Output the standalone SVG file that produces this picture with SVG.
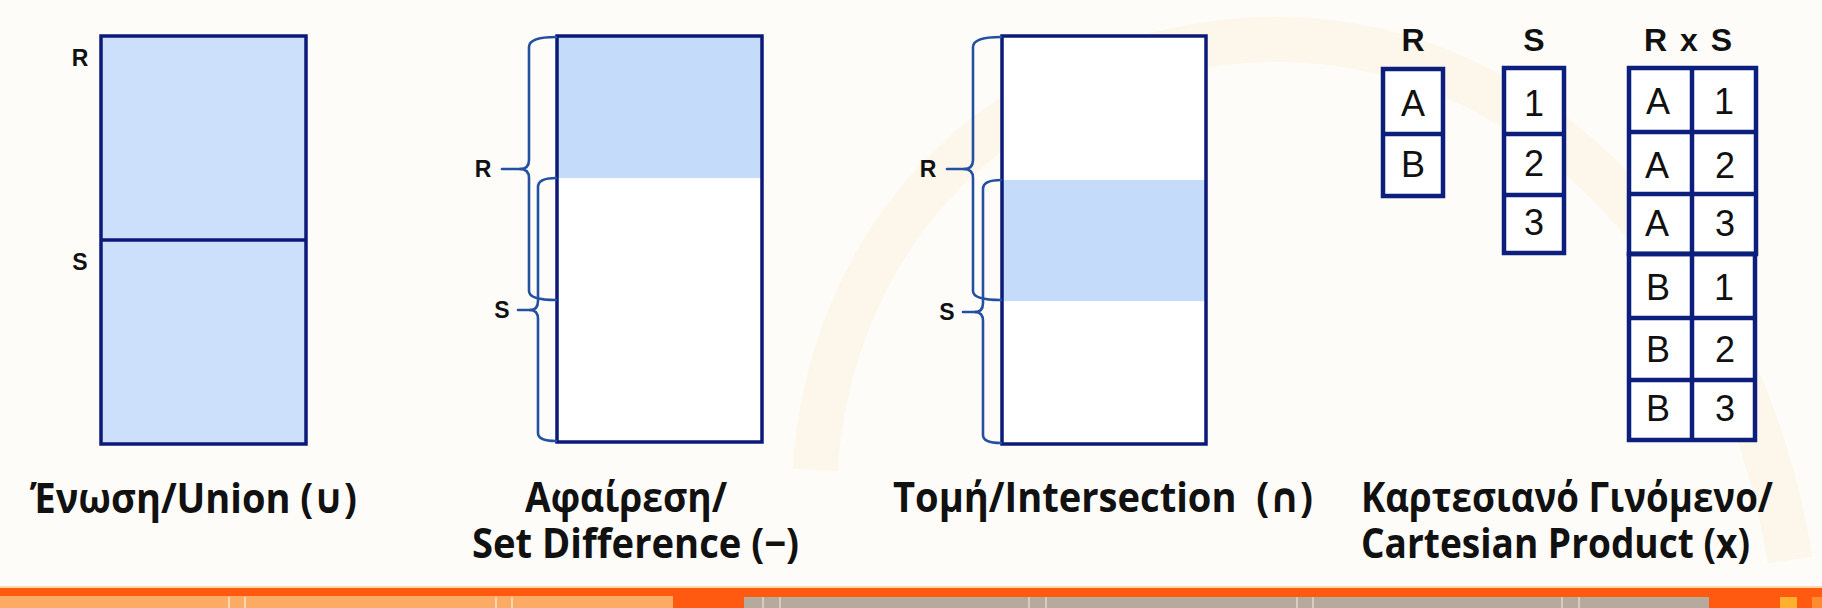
<svg xmlns="http://www.w3.org/2000/svg" width="1822" height="608" viewBox="0 0 1822 608">
<style>
.box{stroke:#0b1a78;stroke-width:3.5;fill:none}
.tbl{stroke:#0d1f7c;stroke-width:4.5;fill:#ffffff}
.tl{stroke:#0d1f7c;stroke-width:4.5}
.brace{stroke:#2350a0;stroke-width:2.6;fill:none;stroke-linecap:round;stroke-linejoin:round}
.lbl{font-family:"Liberation Sans",Arial,sans-serif;font-weight:bold;font-size:23px;fill:#111;text-anchor:middle}
.hdr{font-family:"Liberation Sans",Arial,sans-serif;font-weight:bold;font-size:32px;fill:#111;text-anchor:middle}
.cell{font-family:"Liberation Sans",Arial,sans-serif;font-size:36px;fill:#111;text-anchor:middle}
.ttl{font-family:"Open Sans","DejaVu Sans",sans-serif;font-weight:bold;font-size:41px;fill:#111}
.wl{stroke:#fde3c6;stroke-width:1.6}
.wg{stroke:#ddd6cc;stroke-width:1.6}
</style>
<rect x="0" y="0" width="1822" height="608" fill="#fefcf8"/>
<path d="M 815 470 C 830 250 980 60 1250 40 C 1520 25 1740 250 1790 560" fill="none" stroke="#fcf3e3" stroke-width="45" opacity="0.6"/>

<g id="union">
<rect x="101" y="36" width="205" height="408" fill="#cde0fb"/>
<rect class="box" x="101" y="36" width="205" height="408"/>
<line class="box" x1="101" y1="240" x2="306" y2="240"/>
<text class="lbl" x="80" y="66">R</text>
<text class="lbl" x="80" y="270">S</text>
<text class="ttl" x="30" y="513" textLength="327" lengthAdjust="spacingAndGlyphs">Ένωση/Union (∪)</text>
</g>

<g id="difference">
<rect x="557" y="36" width="205" height="406" fill="#ffffff"/>
<rect x="557" y="36" width="205" height="142" fill="#c5dbfa"/>
<rect class="box" x="557" y="36" width="205" height="406"/>
<text class="lbl" x="483" y="177">R</text>
<text class="lbl" x="502" y="318">S</text>
<text class="ttl" x="525" y="512" textLength="202" lengthAdjust="spacingAndGlyphs">Αφαίρεση/</text>
<text class="ttl" x="472" y="558" textLength="327" lengthAdjust="spacingAndGlyphs">Set Difference (−)</text>
</g>

<g id="intersection">
<rect x="1002" y="36" width="204" height="408" fill="#ffffff"/>
<rect x="1002" y="180" width="204" height="121" fill="#c5dbfa"/>
<rect class="box" x="1002" y="36" width="204" height="408"/>
<text class="lbl" x="928" y="177">R</text>
<text class="lbl" x="947" y="320">S</text>
<text class="ttl" x="893" y="512" textLength="420" lengthAdjust="spacingAndGlyphs">Τομή/Intersection&#160; (∩)</text>
</g>

<g id="cartesian">
<text class="hdr" x="1413" y="51">R</text>
<text class="hdr" x="1534" y="51">S</text>
<text class="hdr" x="1688" y="51" word-spacing="4">R x S</text>
<g id="table-r">
<rect class="tbl" x="1383" y="69" width="60" height="127"/>
<line class="tl" x1="1383" y1="134" x2="1443" y2="134"/>
<text class="cell" x="1413" y="116">A</text>
<text class="cell" x="1413" y="177">B</text>
</g>
<g id="table-s">
<rect class="tbl" x="1504" y="68" width="60" height="185"/>
<line class="tl" x1="1504" y1="134" x2="1564" y2="134"/>
<line class="tl" x1="1504" y1="195" x2="1564" y2="195"/>
<text class="cell" x="1534" y="116">1</text>
<text class="cell" x="1534" y="176">2</text>
<text class="cell" x="1534" y="235">3</text>
</g>
<g id="table-rxs">
<rect class="tbl" x="1629" y="68" width="127" height="186"/>
<rect class="tbl" x="1629" y="254" width="126" height="186"/>
<line class="tl" x1="1629" y1="254" x2="1756" y2="254" stroke-width="6"/>
<line class="tl" x1="1692" y1="68" x2="1692" y2="440"/>
<line class="tl" x1="1629" y1="132" x2="1756" y2="132"/>
<line class="tl" x1="1629" y1="194" x2="1756" y2="194"/>
<line class="tl" x1="1629" y1="318" x2="1755" y2="318"/>
<line class="tl" x1="1629" y1="380" x2="1755" y2="380"/>
<text class="cell" x="1658" y="114">A</text><text class="cell" x="1724" y="114">1</text>
<text class="cell" x="1657" y="178">A</text><text class="cell" x="1725" y="178">2</text>
<text class="cell" x="1657" y="236">A</text><text class="cell" x="1725" y="236">3</text>
<text class="cell" x="1658" y="300">B</text><text class="cell" x="1724" y="300">1</text>
<text class="cell" x="1658" y="362">B</text><text class="cell" x="1725" y="362">2</text>
<text class="cell" x="1658" y="421">B</text><text class="cell" x="1725" y="421">3</text>
</g>
<text class="ttl" x="1361" y="512" textLength="412" lengthAdjust="spacingAndGlyphs">Καρτεσιανό Γινόμενο/</text>
<text class="ttl" x="1361" y="558" textLength="389" lengthAdjust="spacingAndGlyphs">Cartesian Product (x)</text>
</g>

<g id="connectors">
<path class="brace" d="M 556 37 Q 529 37 529 47 L 529 160 Q 529 169 520 169 Q 529 169 529 178 L 529 291 Q 529 300 556 300"/>
<line class="brace" x1="502" y1="169" x2="521" y2="169"/>
<path class="brace" d="M 556 178 Q 538 178 538 187 L 538 301 Q 538 310 530 310 Q 538 310 538 319 L 538 433 Q 538 441 556 441"/>
<line class="brace" x1="518" y1="310" x2="531" y2="310"/>
<path class="brace" d="M 1001 37 Q 973 37 973 47 L 973 160 Q 973 169 964 169 Q 973 169 973 178 L 973 291 Q 973 300 1001 300"/>
<line class="brace" x1="947" y1="169" x2="965" y2="169"/>
<path class="brace" d="M 1001 180 Q 983 180 983 189 L 983 303 Q 983 312 975 312 Q 983 312 983 321 L 983 435 Q 983 443 1001 443"/>
<line class="brace" x1="963" y1="312" x2="976" y2="312"/>
</g>

<g id="footer">
<rect x="0" y="586" width="1822" height="2" fill="#f9d8b2"/>
<rect x="0" y="588" width="1822" height="20" fill="#ff5a10"/>
<rect x="0" y="596" width="673" height="12" fill="#fbab63"/>
<rect x="744" y="597" width="965" height="11" fill="#b5aa9c"/>
<rect x="1780" y="597" width="17" height="11" fill="#ffb02e"/>
<rect x="1812" y="597" width="10" height="11" fill="#ff8a30"/>
<line class="wl" x1="229" y1="597" x2="229" y2="608"/>
<line class="wl" x1="245" y1="597" x2="245" y2="608"/>
<line class="wl" x1="496" y1="597" x2="496" y2="608"/>
<line class="wl" x1="512" y1="597" x2="512" y2="608"/>
<line class="wg" x1="763" y1="597" x2="763" y2="608"/>
<line class="wg" x1="780" y1="597" x2="780" y2="608"/>
<line class="wg" x1="1029" y1="597" x2="1029" y2="608"/>
<line class="wg" x1="1046" y1="597" x2="1046" y2="608"/>
<line class="wg" x1="1297" y1="597" x2="1297" y2="608"/>
<line class="wg" x1="1313" y1="597" x2="1313" y2="608"/>
<line class="wg" x1="1562" y1="597" x2="1562" y2="608"/>
<line class="wg" x1="1579" y1="597" x2="1579" y2="608"/>
</g>
</svg>
